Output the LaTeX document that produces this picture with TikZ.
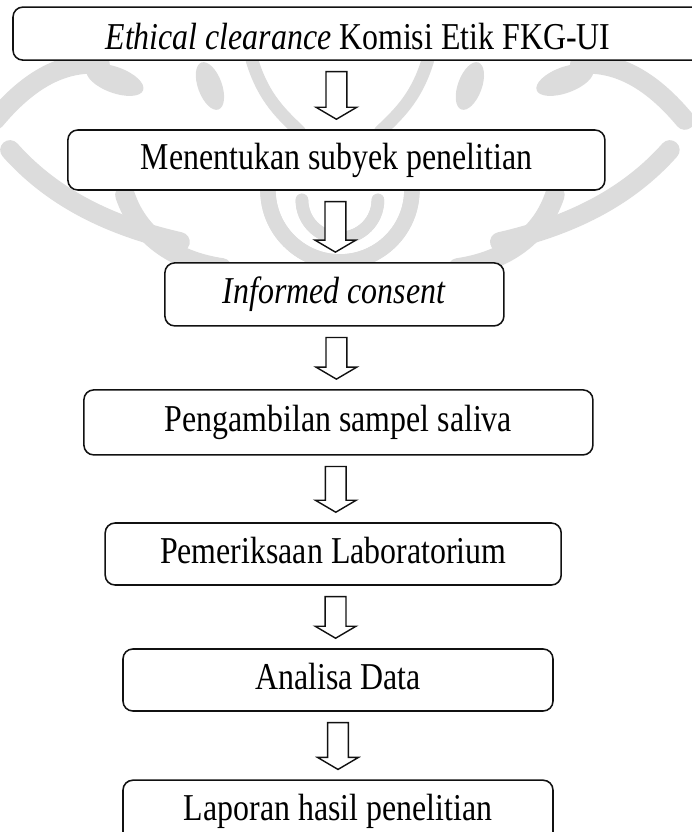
\documentclass[tikz,border=0pt]{standalone}
\usepackage{fontspec}
\setmainfont{Liberation Serif}[FakeStretch=0.84]
\usetikzlibrary{calc}
\usepackage{xcolor}
\definecolor{wmgray}{HTML}{DCDCDC}
\definecolor{boxline}{HTML}{111111}

\begin{document}
\begin{tikzpicture}[
    every node/.style={font=\fontsize{27}{31}\selectfont},
    stepbox/.style={draw=boxline, fill=white, line width=1.1pt,
                    rounded corners=7pt, inner sep=0pt,
                    text height=18pt, text depth=5pt},
    flowarrow/.style={draw=boxline, fill=white, line width=1pt,
      to path={let \p1=(\tikztostart), \p2=(\tikztotarget),
                   \p3=($(\p1)!0.5!(\p2)$) in
        (\x3-0.26cm,\y1-0.27cm) -- (\x3-0.26cm,\y2+0.55cm)
        -- (\x3-0.51cm,\y2+0.55cm) -- (\x3,\y2+0.25cm)
        -- (\x3+0.51cm,\y2+0.55cm) -- (\x3+0.26cm,\y2+0.55cm)
        -- (\x3+0.26cm,\y1-0.27cm) -- cycle}},
    wmark/.style={draw=wmgray, line width=11pt, line cap=round},
]

% ── Page ────────────────────────────────────────────────────────
\useasboundingbox (0,0) rectangle (17.3,-20.8);
\clip (0,0) rectangle (17.3,-20.8);

% ── Watermark (pixel units) ─────────────────────────────────────
\begin{scope}[x=0.025cm, y=-0.025cm]
  \foreach \s in {1,-1}{
    \begin{scope}[shift={(340,0)}, xscale=\s]
      \draw[wmark] ([shift={(180:72)}]0,190) arc (180:0:72);
      \draw[wmark, line width=9pt] ([shift={(180:38)}]0,200) arc (180:0:38);
      \draw[wmark, line width=9pt] (-88,60) .. controls (-76,100) and (-56,116) .. (-40,132);
      \draw[wmark, line width=14pt] (-215,195) .. controls (-200,240) and (-160,262) .. (-118,268);
      \draw[wmark, line width=14pt] (-345,120) .. controls (-305,72) and (-270,62) .. (-240,64);
      \draw[wmark, line width=14pt] (-330,150) .. controls (-290,195) and (-235,225) .. (-160,242);
      \fill[wmgray, rotate around={-20:(-225,80)}] (-225,80) ellipse (30 and 13);
      \fill[wmgray, rotate around={20:(-130,86)}] (-130,86) ellipse (12 and 25);
    \end{scope}
  }
\end{scope}

% ── Steps ───────────────────────────────────────────────────────
\node[stepbox, minimum width=17.25cm, minimum height=1.325cm,
      text height=24pt, text depth=1pt] (b1) at (8.95,-0.84)
  {\emph{Ethical clearance} Komisi Etik FKG-UI};
\node[stepbox, minimum width=13.425cm, minimum height=1.5cm] (b2) at (8.41,-4.0)
  {Menentukan subyek penelitian};
\node[stepbox, minimum width=8.475cm, minimum height=1.575cm] (b3) at (8.36,-7.36)
  {\emph{Informed consent}};
\node[stepbox, minimum width=12.725cm, minimum height=1.625cm] (b4) at (8.46,-10.56)
  {Pengambilan sampel saliva};
\node[stepbox, minimum width=11.4cm, minimum height=1.55cm] (b5) at (8.33,-13.85)
  {Pemeriksaan Laboratorium};
\node[stepbox, minimum width=10.75cm, minimum height=1.55cm] (b6) at (8.45,-17.0)
  {Analisa Data};
\node[stepbox, minimum width=10.75cm, minimum height=1.55cm] (b7) at (8.45,-20.28)
  {Laporan hasil penelitian};

% ── Block arrows ────────────────────────────────────────────────
\draw[flowarrow] (b1.south -| b2.north) to (b2.north);
\foreach \i/\j in {2/3,3/4,4/5,5/6,6/7}{
  \draw[flowarrow] (b\i.south) to (b\j.north);
}

\end{tikzpicture}
\end{document}
